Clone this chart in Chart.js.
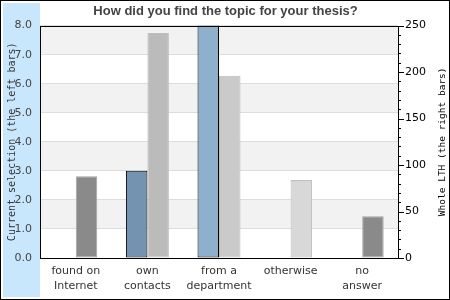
<!DOCTYPE html>
<html>
<head>
<meta charset="utf-8">
<script src="https://cdn.jsdelivr.net/npm/chart.js@4"></script>
<style>
  html, body { margin: 0; padding: 0; background: #fff; }
  #wrap { width: 450px; height: 300px; }
</style>
</head>
<body>
<div id="wrap"><canvas id="thesisChart" width="450" height="300"></canvas></div>
<script>
// thesis topic survey: current selection (left axis) vs whole LTH (right axis)

const categories = [["found on", "Internet"], ["own", "contacts"], ["from a", "department"], "otherwise", ["no", "answer"]];
const currentSelection = [0, 3, 8, 0, 0];
const wholeLTH = [88, 242, 196, 84, 45];

const leftTicksMax = 8;
const rightTicksMax = 250;
const rightTitle = "Whole LTH (the right bars)";

const selFill = ["#7393b0", "#7393b0", "#8fb0cc", "#8fb0cc", "#7393b0"];
const lthFill = ["#8a8a8a", "#bbbbbb", "#cacaca", "#d8d8d8", "#8a8a8a"];
const lthBorder = ["#a4a4a4", "#bdbdbd", "#bababa", "#bdbdbd", "#a4a4a4"];

const frameplugin = {
  id: "frameplugin",
  beforeDraw(chart) {
    const { ctx, chartArea } = chart;
    const yScale = chart.scales.y;
    ctx.save();
    ctx.fillStyle = "#ffffff";
    ctx.fillRect(0, 0, chart.width, chart.height);

    // light blue strip behind left axis
    ctx.fillStyle = "#c9e7fc";
    ctx.fillRect(3, 3, chartArea.left - 3, chart.height - 6);

    // alternating bands
    ctx.fillStyle = "#f2f2f2";
    for (let i = 1; i < leftTicksMax; i += 2) {
      const top = yScale.getPixelForValue(i + 1);
      const bot = yScale.getPixelForValue(i);
      ctx.fillRect(chartArea.left, top, chartArea.right - chartArea.left, bot - top);
    }
    ctx.restore();
  },
  afterDraw(chart) {
    const { ctx, chartArea } = chart;
    const y2 = chart.scales.y2;
    ctx.save();
    ctx.strokeStyle = "#000";
    ctx.lineWidth = 1;
    ctx.strokeRect(Math.round(chartArea.left) + 0.5, Math.round(chartArea.top) + 0.5,
      Math.round(chartArea.right - chartArea.left), Math.round(chartArea.bottom - chartArea.top));

    // right axis ticks, long for majors
    ctx.beginPath();
    y2.ticks.forEach(t => {
      const py = Math.round(y2.getPixelForValue(t.value)) + 0.5;
      const len = t.value % 50 === 0 ? 6 : 3;
      ctx.moveTo(chartArea.right, py);
      ctx.lineTo(chartArea.right + len, py);
    });
    ctx.stroke();

    // right axis title, reading bottom to top
    ctx.translate(443, (chartArea.top + chartArea.bottom) / 2);
    ctx.rotate(-Math.PI / 2);
    ctx.fillStyle = "#000";
    ctx.font = "9.5px 'DejaVu Sans Mono', monospace";
    ctx.textAlign = "center";
    ctx.textBaseline = "middle";
    ctx.fillText(rightTitle, 0, 0);
    ctx.setTransform(1, 0, 0, 1, 0, 0);

    // outer border
    ctx.strokeRect(0.5, 0.5, chart.width - 1, chart.height - 1);
    ctx.restore();
  }
};

const data = {
  labels: categories,
  datasets: [
    {
      label: "Current selection",
      data: currentSelection,
      yAxisID: "y",
      backgroundColor: selFill,
      borderColor: "#000",
      borderWidth: 1,
      borderSkipped: false,
      categoryPercentage: 0.6,
      barPercentage: 1.0
    },
    {
      label: "Whole LTH",
      data: wholeLTH,
      yAxisID: "y2",
      backgroundColor: lthFill,
      borderColor: lthBorder,
      borderWidth: 1,
      borderSkipped: false,
      categoryPercentage: 0.6,
      barPercentage: 1.0
    }
  ]
};

const config = {
  type: "bar",
  data,
  options: {
    responsive: false,
    animation: false,
    events: [],
    layout: { padding: { left: 3, right: 2, top: 0, bottom: 3 } },
    plugins: {
      legend: { display: false },
      tooltip: { enabled: false },
      title: {
        display: true,
        text: "How did you find the topic for your thesis?",
        color: "#444",
        font: { family: "'Liberation Sans', Arial, sans-serif", size: 13, weight: "bold" },
        padding: { top: 4, bottom: 6 }
      }
    },
    scales: {
      x: {
        grid: { display: false, drawTicks: false },
        border: { display: false },
        ticks: {
          color: "#333",
          font: { family: "'DejaVu Sans', sans-serif", size: 11, lineHeight: 1.4 },
          maxRotation: 0,
          autoSkip: false,
          padding: 5
        },
        afterFit(scale) { scale.height = 39; }
      },
      y: {
        position: "left",
        min: 0,
        max: leftTicksMax,
        border: { display: false },
        grid: { color: "#dddddd", drawTicks: false },
        ticks: {
          stepSize: 1,
          color: "#444",
          font: { family: "'DejaVu Sans', sans-serif", size: 11 },
          padding: 8,
          callback: v => Number(v).toFixed(1)
        },
        title: {
          display: true,
          text: "Current selection (the left bars)",
          color: "#333",
          font: { family: "'DejaVu Sans Mono', monospace", size: 10 },
          padding: { top: 3, bottom: 0 }
        },
        afterFit(scale) { scale.width = 37; }
      },
      y2: {
        position: "right",
        min: 0,
        max: rightTicksMax,
        border: { display: false },
        grid: { drawOnChartArea: false, drawTicks: true, tickLength: 6, tickColor: "rgba(0,0,0,0)" },
        ticks: {
          stepSize: 10,
          autoSkip: false,
          color: "#000",
          font: { family: "'DejaVu Sans', sans-serif", size: 11 },
          padding: 1,
          callback: v => (v % 50 === 0 ? String(v) : "")
        },
        afterFit(scale) { scale.width = 50; }
      }
    }
  },
  plugins: [frameplugin]
};

new Chart(document.getElementById("thesisChart").getContext("2d"), config);
</script>
</body>
</html>
